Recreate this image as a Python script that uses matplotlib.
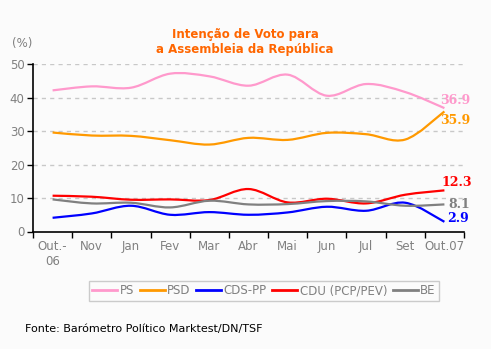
import matplotlib
matplotlib.use("Agg")
import matplotlib.pyplot as plt
from matplotlib.path import Path
from matplotlib.patches import PathPatch
from matplotlib.lines import Line2D
import numpy as np

months = ["Out.-\n06", "Nov", "Jan", "Fev", "Mar", "Abr", "Mai", "Jun", "Jul", "Set", "Out.07"]
ps = [42.2, 43.4, 43.0, 47.2, 46.4, 43.6, 46.9, 40.6, 44.1, 41.7, 36.9]
psd = [29.6, 28.7, 28.6, 27.3, 26.0, 28.0, 27.4, 29.5, 29.1, 27.5, 35.9]
cds = [4.1, 5.4, 7.7, 5.0, 5.8, 5.0, 5.7, 7.4, 6.2, 8.6, 2.9]
cdu = [10.7, 10.4, 9.5, 9.6, 9.4, 12.7, 8.7, 9.8, 8.4, 11.0, 12.3]
be = [9.6, 8.4, 8.6, 7.2, 9.2, 8.1, 8.2, 9.1, 9.0, 7.7, 8.1]

series = [("PS", ps, "#FF99CC"), ("PSD", psd, "#FF9900"), ("CDS-PP", cds, "#0000FF"),
          ("CDU (PCP/PEV)", cdu, "#FF0000"), ("BE", be, "#808080")]

BG = "#FBFBFB"
GREY = "#808080"


def smooth_path(xs, ys):
    # Catmull-Rom through the points, drawn as cubic Bezier segments
    p = np.column_stack([xs, ys]).astype(float)
    ext = np.vstack([p[0], p, p[-1]])
    verts = [p[0]]
    codes = [Path.MOVETO]
    for i in range(len(p) - 1):
        p0, p1, p2, p3 = ext[i], ext[i + 1], ext[i + 2], ext[i + 3]
        verts += [p1 + (p2 - p0) / 6, p2 - (p3 - p1) / 6, p2]
        codes += [Path.CURVE4] * 3
    return Path(verts, codes)


fig = plt.figure(figsize=(4.91, 3.49), dpi=100, facecolor=BG)
ax = fig.add_axes([33 / 491, 117.5 / 349, 431 / 491, 167.2 / 349], facecolor=BG)

x = np.arange(len(months)) + 0.5
for name, vals, col in series:
    ax.add_patch(PathPatch(smooth_path(x, vals), fill=False, edgecolor=col, lw=1.6,
                           capstyle="butt", joinstyle="round"))

ax.set_xlim(0, len(months))
ax.set_ylim(0, 50)
ax.set_xticks(np.arange(len(months) + 1))
ax.set_xticklabels([])
ax.set_xticks(x, minor=True)
ax.set_xticklabels(months, minor=True, color=GREY, fontsize=8.5)
ax.tick_params(axis="x", which="minor", length=0, pad=6)
ax.tick_params(axis="x", which="major", length=4, width=1, color="black", direction="out")
ax.set_yticks([0, 10, 20, 30, 40, 50])
ax.set_yticklabels(["0", "10", "20", "30", "40", "50"], color=GREY, fontsize=8.5)
ax.tick_params(axis="y", length=4, width=1, color="black", direction="out", pad=2)
for s in ["top", "right"]:
    ax.spines[s].set_visible(False)
for s in ["left", "bottom"]:
    ax.spines[s].set_color("black")
    ax.spines[s].set_linewidth(1.2)
for v in [10, 20, 30, 40, 50]:
    ax.axhline(v, xmax=0.997, color="#C8C8C8", lw=1, ls=(0, (3, 3)), zorder=0)

# end labels
ends = [("36.9", 39.3, "#FF99CC", -0.1), ("35.9", 33.3, "#FF9900", -0.1),
        ("12.3", 14.7, "#FF0000", -0.08), ("8.1", 8.2, "#808080", 0.1),
        ("2.9", 3.8, "#0000FF", 0.08)]
for txt, yv, col, dx in ends:
    ax.text(len(months) - 0.5 + dx, yv, txt, color=col, fontsize=9, fontweight="bold",
            family="DejaVu Serif", va="center", ha="left", clip_on=False)

fig.text(245 / 491, 1 - 42 / 349, "Intenção de Voto para\na Assembleia da República",
         ha="center", va="center", color="#FF6600", fontsize=8.5, fontweight="bold",
         linespacing=1.25)
fig.text(12 / 491, 1 - 43 / 349, "(%)", color=GREY, fontsize=8.5, va="center")

handles = [Line2D([], [], color=c, lw=2) for _, _, c in series]
leg = fig.legend(handles, [n for n, _, _ in series], loc="center", ncol=5,
                 bbox_to_anchor=(264 / 491, 1 - 291 / 349), frameon=True, fancybox=False,
                 edgecolor="#C0C0C0", facecolor=BG, fontsize=8.5, handlelength=2.1,
                 handletextpad=0.2, columnspacing=0.5, borderpad=0.3, borderaxespad=0)
for t in leg.get_texts():
    t.set_color(GREY)
leg.get_frame().set_linewidth(1)

fig.text(25 / 491, 1 - 329 / 349, "Fonte: Barómetro Político Marktest/DN/TSF",
         color="black", fontsize=8, va="center")

fig.savefig("out.png", dpi=100, facecolor=BG)
